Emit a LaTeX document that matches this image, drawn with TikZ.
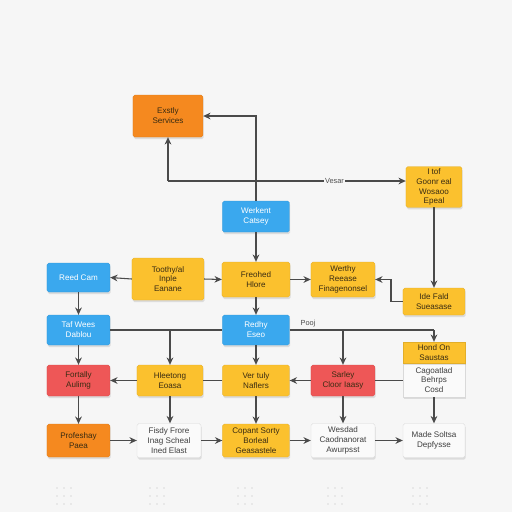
\documentclass[tikz,border=0pt]{standalone}
\usepackage{fontspec}
\setmainfont{Liberation Sans}
\usetikzlibrary{arrows.meta,shadows,calc}
\definecolor{cOrange}{HTML}{F5891F}
\definecolor{cBlue}{HTML}{3AA8EE}
\definecolor{cYellow}{HTML}{FBC12E}
\definecolor{cRed}{HTML}{EE5757}
\definecolor{cWhite}{HTML}{FAFAFA}
\definecolor{cLine}{HTML}{4A4A4A}
\definecolor{cText}{HTML}{3A2C12}
\definecolor{cBg}{HTML}{F6F6F6}
\tikzset{
  box/.style={rounded corners=1pt, align=center, inner sep=1pt,
    font=\fontsize{4.6}{5.6}\selectfont, text=cText,
    drop shadow={opacity=0.22, shadow xshift=0.4pt, shadow yshift=-1.2pt}},
  orangebox/.style={box, fill=cOrange, draw=cOrange!90!black, line width=0.2pt},
  bluebox/.style={box, fill=cBlue, draw=cBlue!90!black, line width=0.2pt, text=white},
  yellowbox/.style={box, fill=cYellow, draw=cYellow!90!black, line width=0.2pt},
  redbox/.style={box, fill=cRed, draw=cRed!90!black, line width=0.2pt},
  whitebox/.style={box, fill=cWhite, draw=gray!30, line width=0.2pt, text=black!75},
  sz/.style 2 args={minimum width=#1*0.02cm, minimum height=#2*0.02cm},
  conn/.style={draw=cLine, line width=0.6pt},
  arr/.style={conn, -{Stealth[length=4.2pt,width=3.8pt]}},
  lbl/.style={font=\fontsize{4.2}{5}\selectfont, text=black!70, fill=cBg, inner sep=0.8pt}
}
\begin{document}
\begin{tikzpicture}[x=0.02cm, y={(0cm,-0.02cm)}]
\useasboundingbox (0,0) rectangle (512,512);
\fill[cBg] (0,0) rectangle (512,512);
% decorative dots
\foreach \cx in {64,157,245,335,420}{
  \foreach \dx in {-7,0,7}{
    \foreach \dy in {488,496,504}{
      \fill[gray!28] (\cx+\dx,\dy) circle (0.9);
    }}}
% nodes
\node[orangebox, sz={70}{42}] (n1) at (168,116) {Exstly\\Services};
\node[bluebox, sz={67}{31}] (n2) at (256,216.5) {Werkent\\Catsey};
\node[yellowbox, sz={56}{40}] (n3) at (434,187) {I tof\\Goonr eal\\Wosaoo\\Epeal};
\node[bluebox, sz={63}{29}] (n4) at (78.5,277.5) {Reed Cam};
\node[yellowbox, sz={72}{42}] (n5) at (168,279) {Toothy/al\\Inple\\Eanane};
\node[yellowbox, sz={68}{35}] (n6) at (256,279.5) {Freohed\\Hlore};
\node[yellowbox, sz={64}{35}] (n7) at (343,279.5) {Werthy\\Reease\\Finagenonsel};
\node[yellowbox, sz={62}{27}] (n8) at (434,301.5) {Ide Fald\\Sueasase};
\node[bluebox, sz={63}{30}] (n9) at (78.5,330) {Taf Wees\\Dablou};
\node[bluebox, sz={67}{30}] (n10) at (256,330) {Redhy\\Eseo};
\node[whitebox, sz={62}{34}, rounded corners=0pt] (n11b) at (434,380) {Cagoatlad\\Behrps\\Cosd};
\node[yellowbox, sz={62}{21}, rounded corners=0pt] (n11t) at (434,352.5) {Hond On\\Saustas};
\node[redbox, sz={63}{31}] (n12) at (78.5,380.5) {Fortally\\Aulimg};
\node[yellowbox, sz={66}{31}] (n13) at (170,380.5) {Hleetong\\Eoasa};
\node[yellowbox, sz={67}{31}] (n14) at (256,380.5) {Ver tuly\\Naflers};
\node[redbox, sz={64}{31}] (n15) at (343,380.5) {Sarley\\Cloor Iaasy};
\node[orangebox, sz={63}{33}] (n16) at (78.5,440.5) {Profeshay\\Paea};
\node[whitebox, sz={64}{34}] (n17) at (169,440.5) {Fisdy Frore\\Inag Scheal\\Ined Elast};
\node[yellowbox, sz={67}{33}] (n18) at (256,440.5) {Copant Sorty\\Borleal\\Geasastele};
\node[whitebox, sz={64}{34}] (n19) at (343,440.5) {Wesdad\\Caodnanorat\\Awurpsst};
\node[whitebox, sz={62}{34}] (n20) at (434,440.5) {Made Soltsa\\Depfysse};
% junctions
\coordinate (j1) at (168,181);
\coordinate (j2) at (434,330);
\coordinate (j3) at (170,330);
\coordinate (j4) at (343,330);
\coordinate (j5) at (391,301.5);
% top connectors
\draw[arr] (n2.north) |- (n1.east);
\draw[arr] (j1) -- (n1.south);
\draw[arr] (j1) -- node[lbl, pos=0.7] {Vesar} (j1 -| n3.west);
\draw[arr] (n2.south) -- (n6.north);
\draw[arr] (n3.south) -- (n8.north);
% row 2
\draw[arr] (n5.west) -- (n4.east);
\draw[arr] (n5.east) -- (n6.west);
\draw[arr] (n6.east) -- (n7.west);
\draw[conn] (n8.west) -- (j5);
\draw[arr] (j5) |- (n7.east);
\draw[arr] (n4.south) -- (n9.north);
\draw[arr] (n6.south) -- (n10.north);
% row 3 bus
\draw[conn] (n9.east) -- (n10.west);
\draw[conn] (n10.east) -- (j2);
\draw[arr] (j2) -- (n11t.north);
\node[lbl, fill=none, anchor=south] (pl) at (308,329) {Pooj};
\draw[arr] (j3) -- (n13.north);
\draw[arr] (j4) -- (n15.north);
\draw[arr] (n10.south) -- (n14.north);
\draw[arr] (n9.south) -- (n12.north);
% row 4
\draw[arr] (n13.west) -- (n12.east);
\draw[conn] (n14.west) -- (n13.east);
\draw[arr] (n15.west) -- (n14.east);
\draw[conn] (n15.east) -- (n15.east -| n11b.west);
% row 4 to 5
\draw[arr] (n12.south) -- (n16.north);
\draw[arr] (n13.south) -- (n13.south |- n17.north);
\draw[arr] (n14.south) -- (n18.north);
\draw[arr] (n15.south) -- (n19.north);
\draw[arr] (n11b.south) -- (n20.north);
% row 5
\draw[arr] (n16.east) -- (n17.west);
\draw[arr] (n17.east) -- (n18.west);
\draw[arr] (n18.east) -- (n19.west);
\draw[arr] (n19.east) -- (n20.west);
\end{tikzpicture}
\end{document}
